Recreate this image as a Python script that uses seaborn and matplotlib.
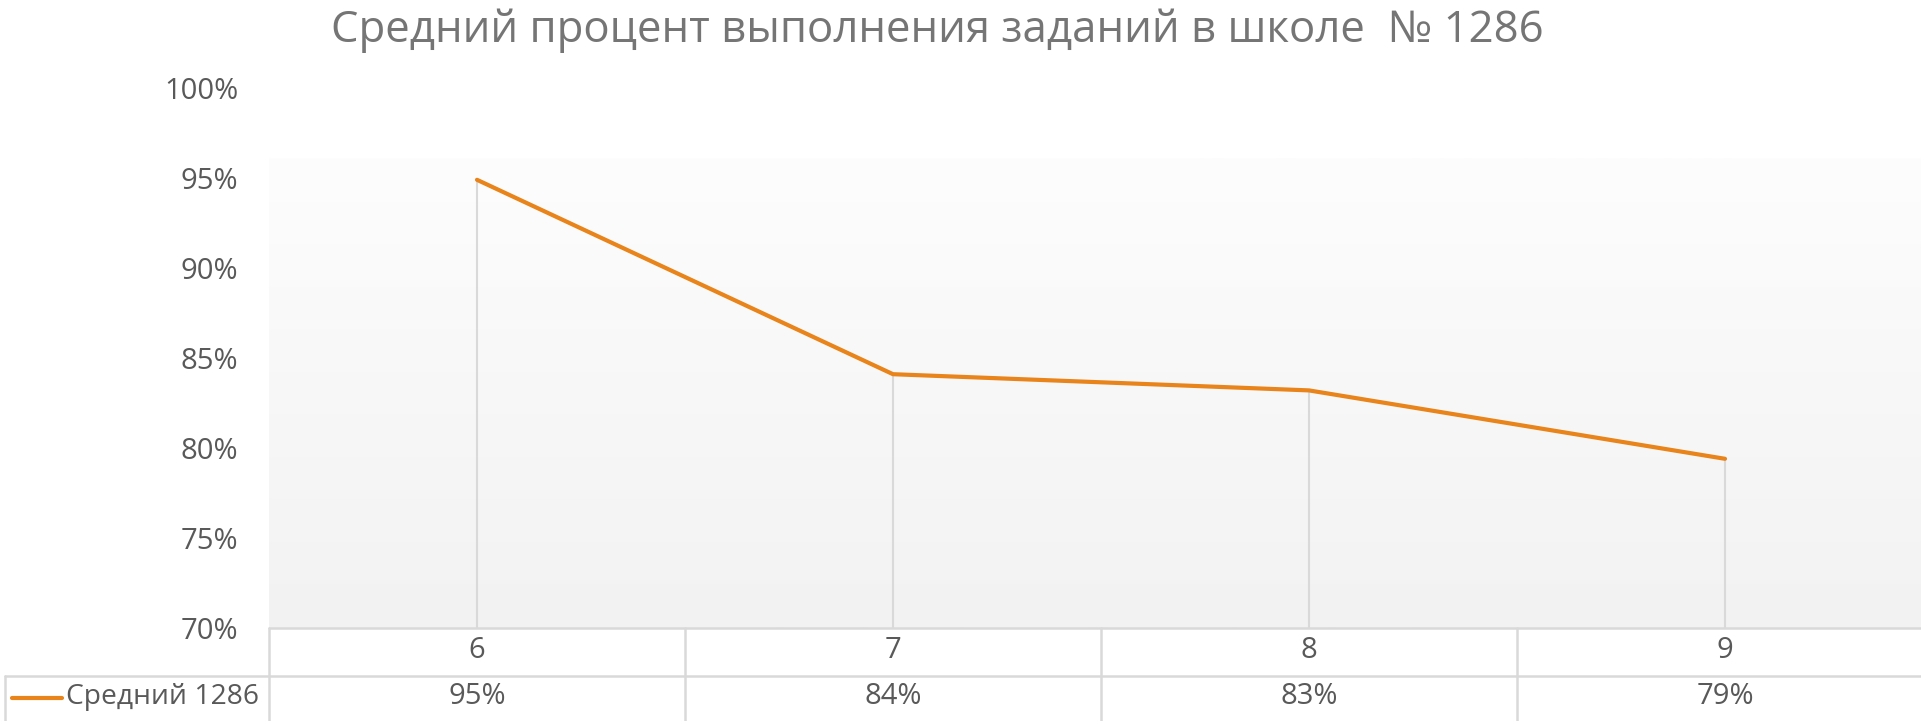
import numpy as np
import pandas as pd
import matplotlib
matplotlib.use('Agg')
import matplotlib.pyplot as plt
import seaborn as sns
from matplotlib.colors import LinearSegmentedColormap
from matplotlib.lines import Line2D
from matplotlib.ticker import PercentFormatter
import matplotlib.transforms as mtransforms

# данные
grades = ['6', '7', '8', '9']
values = [0.949, 0.841, 0.832, 0.794]
series_name = 'Средний 1286'
title = 'Средний процент выполнения заданий в школе  № 1286'

sns.set_style('white')
plt.rcParams['font.family'] = ['Open Sans', 'DejaVu Sans']

W, H = 1921, 721
TXT = '#595959'
GRID = '#d9d9d9'
ORANGE = '#e8841a'
FS = 21

df = pd.DataFrame({'grade': grades, 'value': values})

fig = plt.figure(figsize=(W / 100, H / 100), dpi=100)
# область графика в пикселях: x 269..1933, y 88..628
ax = fig.add_axes([269 / W, (H - 628) / H, (1933 - 269) / W, (628 - 88) / H])

# градиентный фон
cmap = LinearSegmentedColormap.from_list('bg', ['#fdfdfd', '#f2f2f2'])
grad = np.linspace(0, 1, 256).reshape(-1, 1)
ax.imshow(grad, cmap=cmap, aspect='auto', extent=[-0.5, 3.5, 0.70, 0.961],
          origin='upper', zorder=0)

# линии проекции
ax.vlines(range(len(grades)), 0.70, values, color=GRID, lw=1.5, zorder=1)

sns.lineplot(data=df, x='grade', y='value', ax=ax, color=ORANGE, lw=3,
             sort=False, zorder=3, solid_capstyle='round')

ax.set_xlim(-0.5, 3.5)
ax.set_ylim(0.70, 1.00)
ax.set_yticks(np.arange(0.70, 1.001, 0.05))
ax.yaxis.set_major_formatter(PercentFormatter(1, decimals=0))
ax.tick_params(axis='y', length=0, pad=22, labelsize=FS, labelcolor=TXT)
ax.set_xticks([])
ax.set_xlabel('')
ax.set_ylabel('')
for s in ax.spines.values():
    s.set_visible(False)

# таблица данных под графиком
def fy(py):
    return 1 - py / H

def fx(px):
    return px / W

def fline(x0, y0, x1, y1):
    fig.add_artist(Line2D([fx(x0), fx(x1)], [fy(y0), fy(y1)], color=GRID, lw=1.8,
                          transform=fig.transFigure))

fline(269, 628, W, 628)
fline(5, 676, W, 676)
for px in [269, 685, 1101, 1517]:
    fline(px, 628, px, H)
fline(5, 676, 5, H)

tr = mtransforms.blended_transform_factory(ax.transData, fig.transFigure)
for i, (g, v) in enumerate(zip(grades, values)):
    fig.text(i, fy(650), g, transform=tr, ha='center', va='center', fontsize=FS, color=TXT)
    fig.text(i, fy(697), f'{v:.0%}', transform=tr, ha='center', va='center', fontsize=FS, color=TXT)

# легенда в таблице
fig.add_artist(Line2D([fx(12), fx(62)], [fy(698), fy(698)], color=ORANGE, lw=3,
                      solid_capstyle='round', transform=fig.transFigure))
fig.text(fx(66), fy(697), series_name, ha='left', va='center', fontsize=20.3, color=TXT)

fig.text(fx(937), fy(31), title, ha='center', va='center', fontsize=31.5, color='#757575')

fig.savefig('out.png', dpi=100)
